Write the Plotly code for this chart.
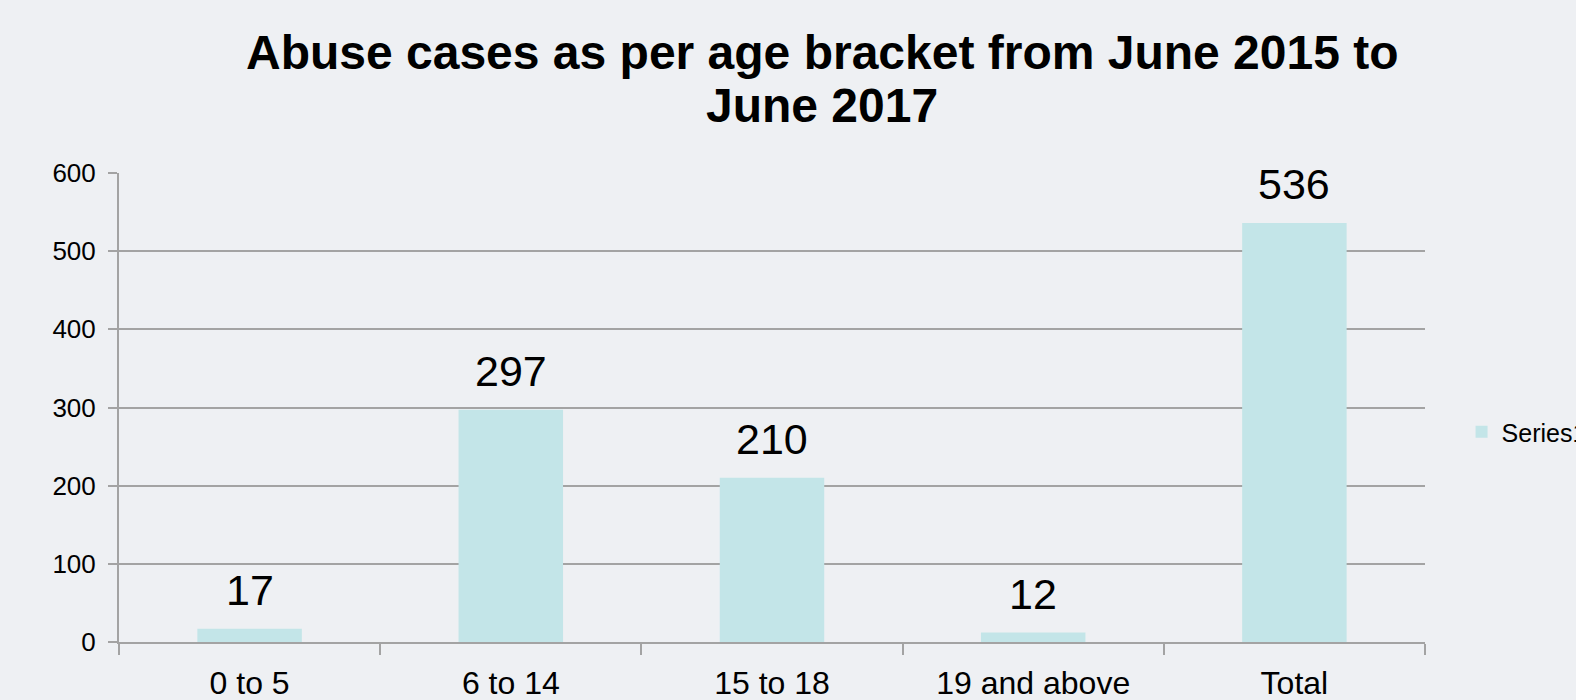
import plotly.graph_objects as go

categories = ["0 to 5", "6 to 14", "15 to 18", "19 and above", "Total"]
values = [17, 297, 210, 12, 536]
series_name = "Series1"
title_lines = ["Abuse cases as per age bracket from June 2015 to", "June 2017"]

BG = "#eef0f3"
BAR = "#c3e5e8"
GRID = "#a3a3a3"
FONT = "Liberation Sans, Arial, sans-serif"
H = 700

fig = go.Figure()
fig.add_trace(go.Bar(x=categories, y=values, name=series_name, marker_color=BAR,
                     marker_line_width=0, showlegend=True))

for c, v in zip(categories, values):
    fig.add_annotation(x=c, y=v, text=str(v), showarrow=False, yanchor="bottom",
                       yshift=13, font=dict(size=43, color="black", family=FONT))

for i, (line, yc) in enumerate(zip(title_lines, [52.5, 105.5])):
    fig.add_annotation(xref="paper", yref="paper", x=(822 - 119) / 1306, y=1 + (173 - yc) / (H - 173 - 58),
                       text="<b>%s</b>" % line, showarrow=False, xanchor="center", yanchor="middle",
                       font=dict(size=48, color="black", family=FONT))

fig.update_layout(
    width=1576, height=H,
    paper_bgcolor=BG, plot_bgcolor=BG,
    margin=dict(l=119, r=151, t=173, b=58, autoexpand=False),
    bargap=0.6,
    font=dict(family=FONT, color="black"),
    legend=dict(x=1.028, xanchor="left", y=(642 - 432) / 469, yanchor="middle",
                font=dict(size=25), bgcolor="rgba(0,0,0,0)", itemwidth=30),
    xaxis=dict(showline=True, linecolor=GRID, linewidth=2, ticks="outside",
               tickson="boundaries", ticklen=11, tickwidth=2, tickcolor=GRID,
               tickfont=dict(size=32), showgrid=False, ticklabelstandoff=12),
    yaxis=dict(range=[0, 600], dtick=100, showline=True, linecolor=GRID, linewidth=2,
               ticks="outside", ticklen=9, tickwidth=2, tickcolor=GRID,
               gridcolor=GRID, gridwidth=2, zeroline=False, tickfont=dict(size=26),
               ticklabelstandoff=7),
)

fig.write_html("out.html", config={"displayModeBar": False},
               post_script="document.body.style.margin='0';document.body.style.background='%s';" % BG)
